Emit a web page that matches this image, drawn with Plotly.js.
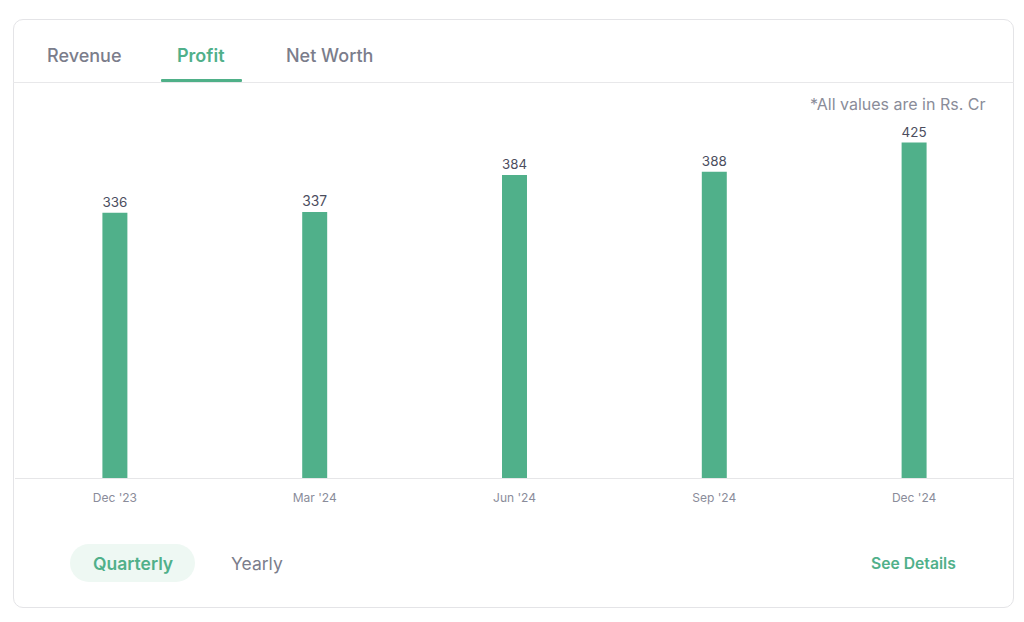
<!DOCTYPE html>
<html>
<head>
<meta charset="utf-8">
<script src="https://cdn.plot.ly/plotly-3.0.1.min.js"></script>
<style>
  html, body { margin: 0; padding: 0; background: #ffffff; }
  #wrap { position: relative; width: 1024px; height: 622px; overflow: hidden; font-family: Inter, "Open Sans", sans-serif; }
  #card { position: absolute; left: 13px; top: 19px; width: 1001px; height: 589px; border: 1px solid #e4e4e7; border-radius: 10px; box-sizing: border-box; }
  #sep { position: absolute; left: 13px; top: 82px; width: 1001px; height: 1px; background: #e8e8ea; }
  #uline { position: absolute; left: 161px; top: 79px; width: 81px; height: 3px; background: #4fb088; border-radius: 1px; }
  #pill { position: absolute; left: 70px; top: 544px; width: 125px; height: 38px; border-radius: 19px; background: #eef8f3; }
  #chart { position: absolute; left: 0; top: 0; width: 1024px; height: 622px; }
</style>
</head>
<body>
<div id="wrap">
  <div id="card"></div>
  <div id="sep"></div>
  <div id="uline"></div>
  <div id="pill"></div>
  <div id="chart"></div>
</div>
<script>
const quarters = ["Dec '23", "Mar '24", "Jun '24", "Sep '24", "Dec '24"];
const profit = [336, 337, 384, 388, 425];
const tabs = ["Revenue", "Profit", "Net Worth"];
const periods = ["Quarterly", "Yearly"];

const GREEN = '#50b08a';
const GRAY = '#7b7d8b';
const FONT = 'Inter, "Open Sans", sans-serif';

// helpers converting pixel positions to paper coords (plot area x:14.5-1014.5, y:109-478)
const px = x => (x - 14.5) / 1000;
const py = y => (478 - y) / 369;

const trace = {
  type: 'bar',
  x: quarters,
  y: profit,
  marker: { color: GREEN },
  width: 0.125,
  text: profit.map(String),
  textposition: 'outside',
  textfont: { family: FONT, size: 14, color: '#4b4d5e' },
  cliponaxis: false,
  hoverinfo: 'none'
};

const annotations = [
  { text: tabs[0], x: px(84), y: py(55), font: { size: 18, color: GRAY, weight: 500 } },
  { text: tabs[1], x: px(201), y: py(55), font: { size: 18, color: GREEN, weight: 600 } },
  { text: tabs[2], x: px(329), y: py(55), font: { size: 18, color: GRAY, weight: 500 } },
  { text: '*All values are in Rs. Cr', x: px(988), y: py(104), xanchor: 'right', font: { size: 16, color: '#8a8c99' } },
  { text: periods[0], x: px(132.5), y: py(563), font: { size: 17.5, color: GREEN, weight: 600 } },
  { text: periods[1], x: px(257), y: py(563), font: { size: 17.5, color: GRAY, weight: 400 } },
  { text: 'See Details', x: px(913.5), y: py(563), font: { size: 15.7, color: GREEN, weight: 600 } }
].map(a => Object.assign({ xref: 'paper', yref: 'paper', showarrow: false, xanchor: a.xanchor || 'center', yanchor: 'middle' }, a, { font: Object.assign({ family: FONT }, a.font) }));

const layout = {
  width: 1024,
  height: 622,
  margin: { l: 14.5, r: 9.5, t: 109, b: 144, pad: 0 },
  paper_bgcolor: 'rgba(0,0,0,0)',
  plot_bgcolor: 'rgba(0,0,0,0)',
  showlegend: false,
  font: { family: FONT },
  xaxis: {
    type: 'category',
    showline: true,
    linecolor: '#e6e6e8',
    linewidth: 1,
    showgrid: false,
    zeroline: false,
    ticks: '',
    ticklabelstandoff: 9,
    tickfont: { family: FONT, size: 12, color: '#8a8c9a' },
    fixedrange: true
  },
  yaxis: {
    range: [0, 467.5],
    visible: false,
    showgrid: false,
    zeroline: false,
    fixedrange: true
  },
  annotations: annotations
};

Plotly.newPlot('chart', [trace], layout, { displayModeBar: false, staticPlot: true });
</script>
</body>
</html>
